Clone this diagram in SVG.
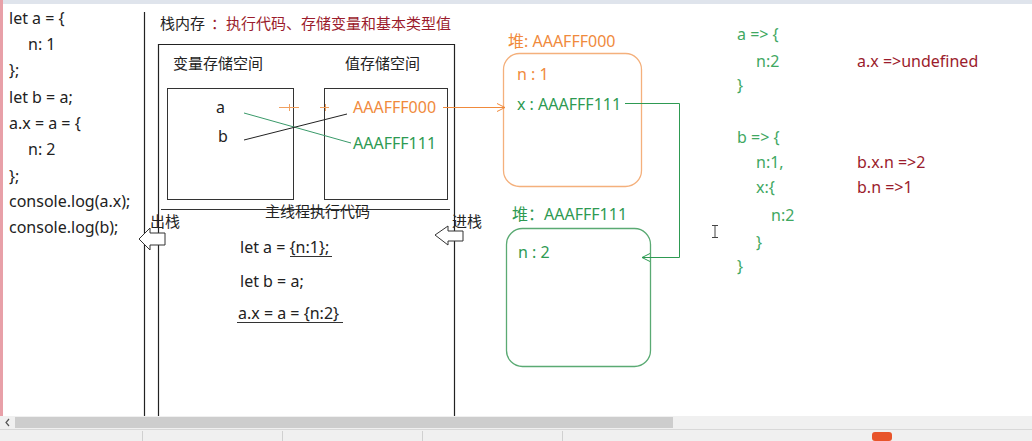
<svg xmlns="http://www.w3.org/2000/svg" width="1032" height="441" viewBox="0 0 1032 441">
<defs>
<style>
text{font-family:"Noto Sans","Noto Sans CJK SC",sans-serif;font-size:16px;}
.zh{font-size:15px;}
.k{fill:#222;}
.o{fill:#f08a3c;}
.g{fill:#2e9a52;}
.lg{fill:#3fa862;}
.r{fill:#9b1c2c;}
.ln{fill:none;stroke:#222;stroke-width:1.2;}
.thin{fill:none;stroke:#333;stroke-width:1;}
</style>
<marker id="arrO" markerWidth="10" markerHeight="10" refX="9" refY="5" orient="auto" markerUnits="userSpaceOnUse">
<path d="M1,1 L9,5 L1,9" fill="none" stroke="#f08a3c" stroke-width="1"/>
</marker>
<marker id="arrG" markerWidth="10" markerHeight="10" refX="9" refY="5" orient="auto" markerUnits="userSpaceOnUse">
<path d="M1,1 L9,5 L1,9" fill="none" stroke="#2e9a52" stroke-width="1"/>
</marker>
</defs>
<rect x="0" y="0" width="1032" height="441" fill="#ffffff"/>
<rect x="0" y="0" width="1032" height="4" fill="#dfe4ec"/>
<rect x="0" y="0" width="3" height="416" fill="#e8a0a8"/>

<g id="source-code">
<text class="k" x="9" y="24">let a = {</text>
<text class="k" x="28" y="50">n: 1</text>
<text class="k" x="9" y="76">};</text>
<text class="k" x="9" y="103">let b = a;</text>
<text class="k" x="9" y="129">a.x = a = {</text>
<text class="k" x="28" y="155">n: 2</text>
<text class="k" x="9" y="182">};</text>
<text class="k" x="9" y="207">console.log(a.x);</text>
<text class="k" x="9" y="233">console.log(b);</text>
</g>

<g id="stack">
<line class="ln" x1="144.5" y1="12" x2="144.5" y2="416"/>
<path class="ln" d="M158.5,416 V44.5 H454.5 V416"/>
<text class="k zh" x="160" y="29">栈内存</text>
<text class="r zh" x="211" y="29">：执行代码、存储变量和基本类型值</text>
</g>

<g id="var-space">
<text class="k zh" x="173" y="69">变量存储空间</text>
<rect class="thin" x="167.5" y="88.5" width="126" height="111"/>
<text class="k" x="216" y="113">a</text>
<text class="k" x="218" y="142">b</text>
</g>

<g id="value-space">
<text class="k zh" x="345" y="69">值存储空间</text>
<rect class="thin" x="324.5" y="88.5" width="123" height="111"/>
<text class="o" x="353" y="113">AAAFFF000</text>
<text class="g" x="353" y="149">AAAFFF111</text>
</g>

<g id="main-thread">
<line class="thin" x1="161" y1="209.5" x2="450" y2="209.5"/>
<text class="k zh" x="265" y="217">主线程执行代码</text>
<text class="k" x="240" y="253">let a = {n:1};</text>
<line class="thin" x1="290" y1="256.5" x2="332" y2="256.5"/>
<text class="k" x="240" y="287">let b = a;</text>
<text class="k" x="238" y="319">a.x = a = {n:2}</text>
<line class="thin" x1="237" y1="322.5" x2="343" y2="322.5"/>
</g>

<g id="pop">
<text class="k zh" x="150" y="227">出栈</text>
<polygon points="139,239 150,228 150,233 165,233 165,245 150,245 150,250" fill="#fff" stroke="#333" stroke-width="1"/>
</g>

<g id="push">
<text class="k zh" x="452" y="227">进栈</text>
<polygon points="435,235 448,226 448,231 463,231 463,241 448,241 448,245" fill="#fff" stroke="#333" stroke-width="1"/>
</g>

<g id="heap-1">
<text class="o" x="508" y="47">堆: AAAFFF000</text>
<rect x="503.5" y="53.5" width="138" height="133" rx="16" fill="none" stroke="#f4b07c" stroke-width="1.3"/>
<text class="o" x="517" y="80">n : 1</text>
<text class="g" x="517" y="110">x : AAAFFF111</text>
</g>

<g id="heap-2">
<text class="g" x="512" y="220">堆：AAAFFF111</text>
<rect x="506.5" y="228.5" width="144" height="138" rx="16" fill="none" stroke="#5aaa73" stroke-width="1.3"/>
<text class="g" x="518" y="258">n : 2</text>
</g>

<g id="connectors">
<line x1="244" y1="113" x2="351" y2="143" stroke="#3a9a6a" stroke-width="1"/>
<line x1="244" y1="140" x2="347" y2="114" stroke="#222" stroke-width="1"/>
<g stroke="#f0a060" stroke-width="1">
<line x1="279" y1="107.5" x2="299" y2="107.5"/>
<line x1="289.5" y1="104" x2="289.5" y2="111"/>
<line x1="320" y1="107.5" x2="329" y2="107.5"/>
<line x1="325.5" y1="104" x2="325.5" y2="111"/>
</g>
<line x1="443" y1="107.5" x2="505" y2="107.5" stroke="#f08a3c" stroke-width="1" marker-end="url(#arrO)"/>
<path d="M625,103.5 H679.5 V257.5 H642" fill="none" stroke="#2e9a52" stroke-width="1" marker-end="url(#arrG)"/>
</g>

<g id="result-a">
<text class="lg" x="737" y="40">a =&gt; {</text>
<text class="lg" x="756" y="67">n:2</text>
<text class="lg" x="737" y="91">}</text>
<text class="r" x="857" y="67">a.x =&gt;undefined</text>
</g>

<g id="result-b">
<text class="lg" x="737" y="143">b =&gt; {</text>
<text class="lg" x="756" y="168">n:1,</text>
<text class="lg" x="756" y="193">x:{</text>
<text class="lg" x="771" y="221">n:2</text>
<text class="lg" x="756" y="248">}</text>
<text class="lg" x="737" y="272">}</text>
<text class="r" x="857" y="168">b.x.n =&gt;2</text>
<text class="r" x="857" y="193">b.n =&gt;1</text>
</g>

<path d="M712,225.5 H718 M715,225.5 V237.5 M712,237.5 H718" stroke="#444" stroke-width="1" fill="none"/>

<rect x="0" y="416" width="1032" height="13" fill="#f0f0f0"/>
<rect x="15" y="417" width="658" height="11" fill="#cdcdcd"/>
<path d="M9,419 L6,422.5 L9,426" fill="none" stroke="#555" stroke-width="1.2"/>
<rect x="0" y="429" width="1032" height="12" fill="#f0f0f0"/>
<line x1="0" y1="429.5" x2="1032" y2="429.5" stroke="#d8d8d8"/>
<g stroke="#d0d0d0" stroke-width="1">
<line x1="142.5" y1="431" x2="142.5" y2="441"/>
<line x1="282.5" y1="431" x2="282.5" y2="441"/>
<line x1="422.5" y1="431" x2="422.5" y2="441"/>
<line x1="562.5" y1="431" x2="562.5" y2="441"/>
</g>
<rect x="872" y="432" width="20" height="9" rx="3" fill="#e8542a"/>
</svg>
